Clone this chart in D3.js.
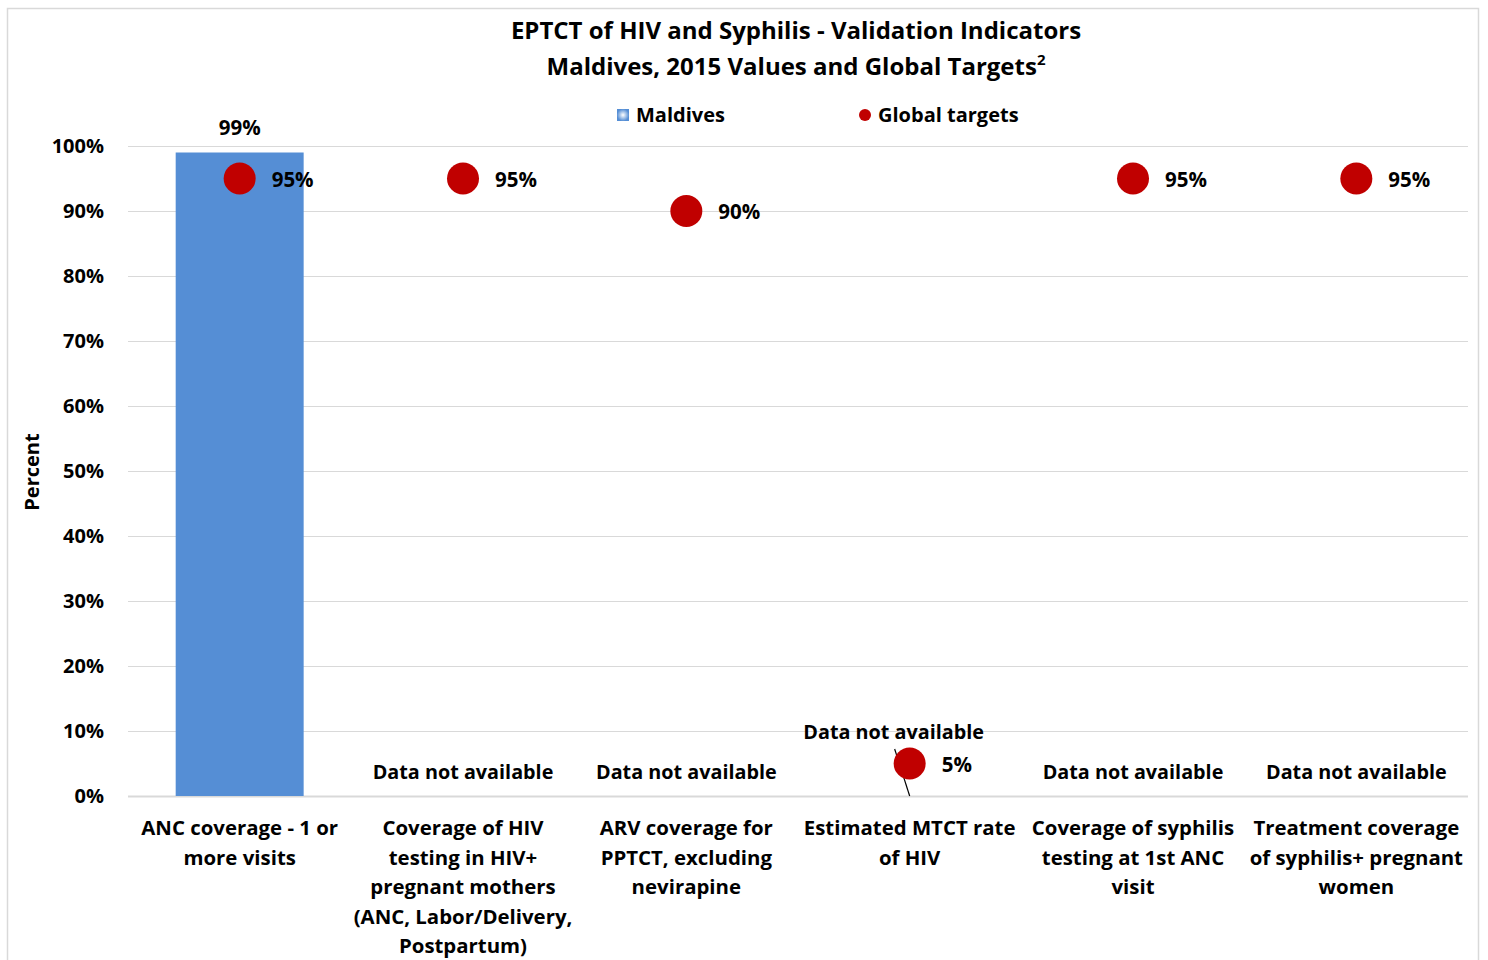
<!DOCTYPE html>
<html>
<head>
<meta charset="utf-8">
<script src="https://cdn.jsdelivr.net/npm/d3@7"></script>
<style>
  body { margin: 0; background: #fff; }
  svg text { font-family: "Open Sans", Lato, sans-serif; font-weight: bold; fill: #000; }
</style>
</head>
<body>
<svg id="chart" width="1488" height="960"></svg>
<script>
// categories (wrapped the way they appear under the axis)
const categories = [
  ["ANC coverage - 1 or", "more visits"],
  ["Coverage of HIV", "testing in HIV+", "pregnant mothers", "(ANC, Labor/Delivery,", "Postpartum)"],
  ["ARV coverage for", "PPTCT, excluding", "nevirapine"],
  ["Estimated MTCT rate", "of HIV"],
  ["Coverage of syphilis", "testing at 1st ANC", "visit"],
  ["Treatment coverage", "of syphilis+ pregnant", "women"]
];
const maldivesValues = [99, null, null, null, null, null];
const targetValues = [95, 95, 90, 5, 95, 95];
const yTicks = [0, 10, 20, 30, 40, 50, 60, 70, 80, 90, 100];

const svg = d3.select("#chart");
const W = 1488, H = 960;
const margin = { left: 128, right: 20, top: 146, bottom: 164 };

// outer chart frame
svg.append("rect")
  .attr("x", 7.5).attr("y", 8.5)
  .attr("width", 1471).attr("height", 980)
  .attr("fill", "none")
  .attr("stroke", "#d9d9d9")
  .attr("stroke-width", 1.5);

const x = d3.scaleBand()
  .domain(d3.range(categories.length))
  .range([margin.left, W - margin.right]);

const y = d3.scaleLinear()
  .domain([0, 100])
  .range([H - margin.bottom, margin.top]);

// gridlines
svg.append("g")
  .selectAll("line")
  .data(yTicks)
  .join("line")
  .attr("x1", margin.left).attr("x2", W - margin.right)
  .attr("y1", d => y(d) + 0.5).attr("y2", d => y(d) + 0.5)
  .attr("stroke", "#d9d9d9")
  .attr("stroke-width", d => d === 0 ? 2 : 1);

// y tick labels
svg.append("g")
  .selectAll("text")
  .data(yTicks)
  .join("text")
  .attr("x", 104)
  .attr("y", d => y(d) + 7)
  .attr("text-anchor", "end")
  .style("font-size", "20px")
  .text(d => d + "%");

// y axis title
svg.append("text")
  .attr("transform", "translate(39,472) rotate(-90)")
  .attr("text-anchor", "middle")
  .style("font-size", "20px")
  .text("Percent");

// bars
const cx = i => x(i) + x.bandwidth() / 2;
const barW = x.bandwidth() * 0.573;

svg.append("g")
  .selectAll("rect")
  .data(maldivesValues.map((v, i) => ({ v, i })).filter(d => d.v != null))
  .join("rect")
  .attr("x", d => cx(d.i) - barW / 2)
  .attr("width", barW)
  .attr("y", d => y(d.v))
  .attr("height", d => y(0) - y(d.v))
  .attr("fill", "#558ed5");

// bar labels
svg.append("g")
  .selectAll("text")
  .data(maldivesValues.map((v, i) => ({ v, i })))
  .join("text")
  .attr("text-anchor", "middle")
  .style("font-size", d => d.v != null ? "20.5px" : "19.8px")
  .attr("x", d => d.v != null ? cx(d.i) : (d.i === 3 ? cx(d.i) - 16 : cx(d.i)))
  .attr("y", d => d.v != null ? y(d.v) - 18 : (d.i === 3 ? 739 : 779))
  .text(d => d.v != null ? d.v + "%" : "Data not available");

// leader line for the label lifted above the target dot
svg.append("line")
  .attr("x1", cx(3) - 15).attr("y1", 749)
  .attr("x2", cx(3)).attr("y2", y(0))
  .attr("stroke", "#000")
  .attr("stroke-width", 1.2);

// target dots
svg.append("g")
  .selectAll("circle")
  .data(targetValues)
  .join("circle")
  .attr("cx", (d, i) => cx(i))
  .attr("cy", d => y(d))
  .attr("r", 16)
  .attr("fill", "#c00000");

svg.append("g")
  .selectAll("text")
  .data(targetValues)
  .join("text")
  .attr("x", (d, i) => cx(i) + 32)
  .attr("y", d => y(d) + 8)
  .style("font-size", "20.5px")
  .text(d => d + "%");

// category labels
const catG = svg.append("g");
categories.forEach((lines, i) => {
  const t = catG.append("text")
    .attr("text-anchor", "middle")
    .style("font-size", "20.4px");
  lines.forEach((ln, j) => {
    t.append("tspan")
      .attr("x", cx(i))
      .attr("y", 835 + j * 29.5)
      .text(ln);
  });
});

// title
const title = svg.append("text")
  .attr("text-anchor", "middle")
  .style("font-size", "24px");
title.append("tspan").attr("x", 796).attr("y", 39)
  .text("EPTCT of HIV and Syphilis - Validation Indicators");
const t2 = title.append("tspan").attr("x", 796).attr("y", 75);
t2.text("Maldives, 2015 Values and Global Targets");
title.append("tspan").attr("dy", -10).style("font-size", "15px").text("2");

// legend
const defs = svg.append("defs");
const grad = defs.append("radialGradient").attr("id", "lg");
grad.append("stop").attr("offset", "0%").attr("stop-color", "#ffffff");
grad.append("stop").attr("offset", "100%").attr("stop-color", "#558ed5");

svg.append("rect")
  .attr("x", 617).attr("y", 109)
  .attr("width", 12).attr("height", 12)
  .attr("fill", "url(#lg)");
svg.append("text")
  .attr("x", 636).attr("y", 122)
  .style("font-size", "20px")
  .text("Maldives");

svg.append("circle")
  .attr("cx", 865).attr("cy", 115)
  .attr("r", 6)
  .attr("fill", "#c00000");
svg.append("text")
  .attr("x", 878).attr("y", 122)
  .style("font-size", "20px")
  .text("Global targets");
</script>
</body>
</html>
